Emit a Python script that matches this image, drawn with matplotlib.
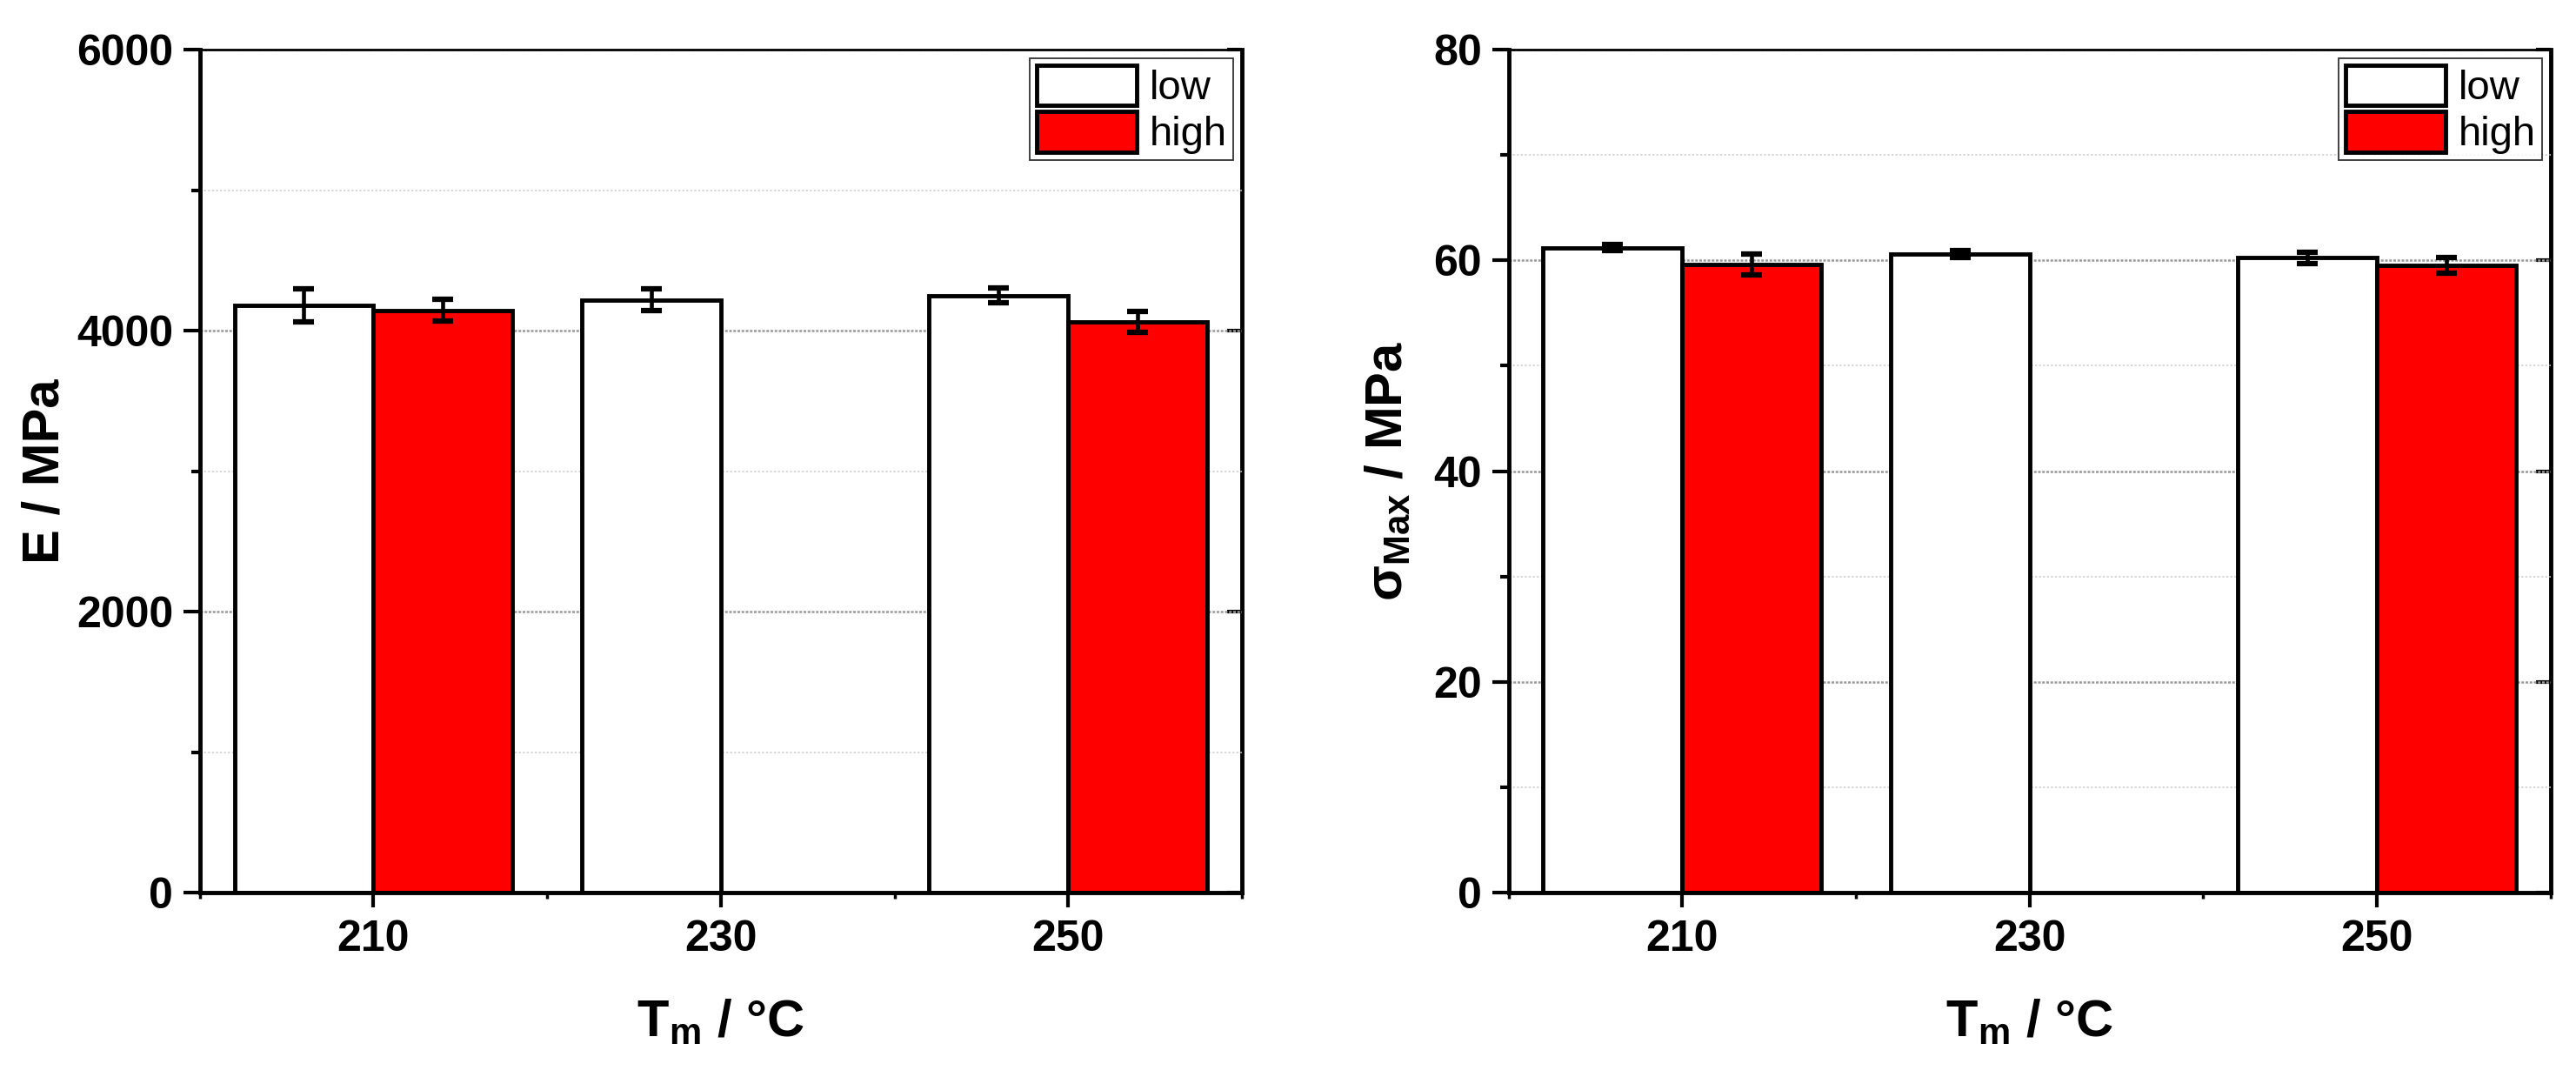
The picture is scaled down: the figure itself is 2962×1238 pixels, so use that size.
import numpy as np
import matplotlib
matplotlib.use('Agg')
import matplotlib.pyplot as plt
from matplotlib.ticker import FixedLocator, NullLocator

plt.rcParams.update({
    'font.family': 'Liberation Sans',
    'mathtext.fontset': 'custom',
    'mathtext.rm': 'Liberation Sans',
    'mathtext.bf': 'Liberation Sans:bold',
    'mathtext.it': 'Liberation Sans:italic',
})

# ── data ───────────────────────────────────────────────────────────────────
temps      = [210, 230, 250]
temps_high = [210, 250]

E_low       = [4180, 4220, 4250]
E_low_err   = [120, 75, 53]
E_high      = [4145, 4060]
E_high_err  = [78, 75]

S_low       = [61.2, 60.6, 60.25]
S_low_err   = [0.3, 0.35, 0.55]
S_high      = [59.6, 59.5]
S_high_err  = [1.0, 0.75]

BAR_W = 8
RED = '#ff0000'


def draw_panel(ax, low, low_err, high, high_err, ylim, ymajor, yminor, ylabel, labelpad):
    ax.bar(temps, low, width=-BAR_W, align='edge', color='white',
           edgecolor='black', linewidth=3.5, label='low', zorder=2)
    ax.bar(temps_high, high, width=BAR_W, align='edge', color=RED,
           edgecolor='black', linewidth=3.5, label='high', zorder=2)
    ax.errorbar([t - BAR_W / 2 for t in temps], low, yerr=low_err, fmt='none',
                ecolor='black', elinewidth=3.3, capsize=8.5, capthick=4.5, zorder=3)
    ax.errorbar([t + BAR_W / 2 for t in temps_high], high, yerr=high_err, fmt='none',
                ecolor='black', elinewidth=3.3, capsize=8.5, capthick=4.5, zorder=3)

    ax.set_xlim(200, 260)
    ax.set_ylim(*ylim)
    ax.xaxis.set_major_locator(FixedLocator(temps))
    ax.xaxis.set_minor_locator(FixedLocator([200, 220, 240, 260]))
    ax.yaxis.set_major_locator(FixedLocator(ymajor))
    ax.yaxis.set_minor_locator(FixedLocator(yminor))

    # dotted grey grid, major darker than minor
    ax.set_axisbelow(True)
    ax.grid(axis='y', which='major', color='#999999', linestyle=(0, (1.2, 0.7)), linewidth=1.8)
    ax.grid(axis='y', which='minor', color='#cccccc', linestyle=(0, (1.5, 1.5)), linewidth=1.1)

    ax.tick_params(axis='both', which='major', direction='out', width=3,
                   labelsize=36, pad=8)
    ax.tick_params(axis='y', which='major', length=14)
    ax.tick_params(axis='y', which='minor', direction='out', length=7, width=3)
    ax.tick_params(axis='x', which='major', length=12, pad=10)
    ax.tick_params(axis='x', which='minor', direction='out', length=5, width=2.5)
    for lab in ax.get_xticklabels() + ax.get_yticklabels():
        lab.set_fontweight('bold')

    for side in ['left', 'bottom']:
        ax.spines[side].set_linewidth(3.5)
    ax.spines['top'].set_linewidth(2)
    ax.spines['right'].set_visible(False)

    # right-hand ticks point inward, only at major values
    sec = ax.secondary_yaxis('right')
    sec.yaxis.set_major_locator(FixedLocator(ymajor))
    sec.yaxis.set_minor_locator(NullLocator())
    sec.tick_params(direction='in', length=12, width=3, labelright=False)
    sec.spines['right'].set_linewidth(3.5)

    ax.set_xlabel(r'$\mathbf{T}_{\mathbf{m}}$ / °C', fontsize=43, fontweight='bold', labelpad=32)
    ax.set_ylabel(ylabel, fontsize=43, fontweight='bold', labelpad=labelpad)

    leg = ax.legend(loc='upper right', fontsize=34, frameon=True, fancybox=False,
                    handlelength=2.45, handleheight=1.15, labelspacing=0.08,
                    handletextpad=0.3, borderpad=0.15, borderaxespad=0.22)
    leg.get_frame().set_edgecolor('black')
    leg.get_frame().set_linewidth(1.3)


fig = plt.figure(figsize=(29.62, 12.38), dpi=100)
ax1 = fig.add_axes([0.0775, 0.1712, 0.4046, 0.7827])
ax2 = fig.add_axes([0.5856, 0.1712, 0.4046, 0.7827])

draw_panel(ax1, E_low, E_low_err, E_high, E_high_err, (0, 6000),
           [0, 2000, 4000, 6000], [1000, 3000, 5000], 'E / MPa', 6)
draw_panel(ax2, S_low, S_low_err, S_high, S_high_err, (0, 80),
           [0, 20, 40, 60, 80], [10, 30, 50, 70],
           r'$\mathbf{σ}_{\mathbf{Max}}$ / MPa', 18)

fig.savefig('out.png', dpi=100)
